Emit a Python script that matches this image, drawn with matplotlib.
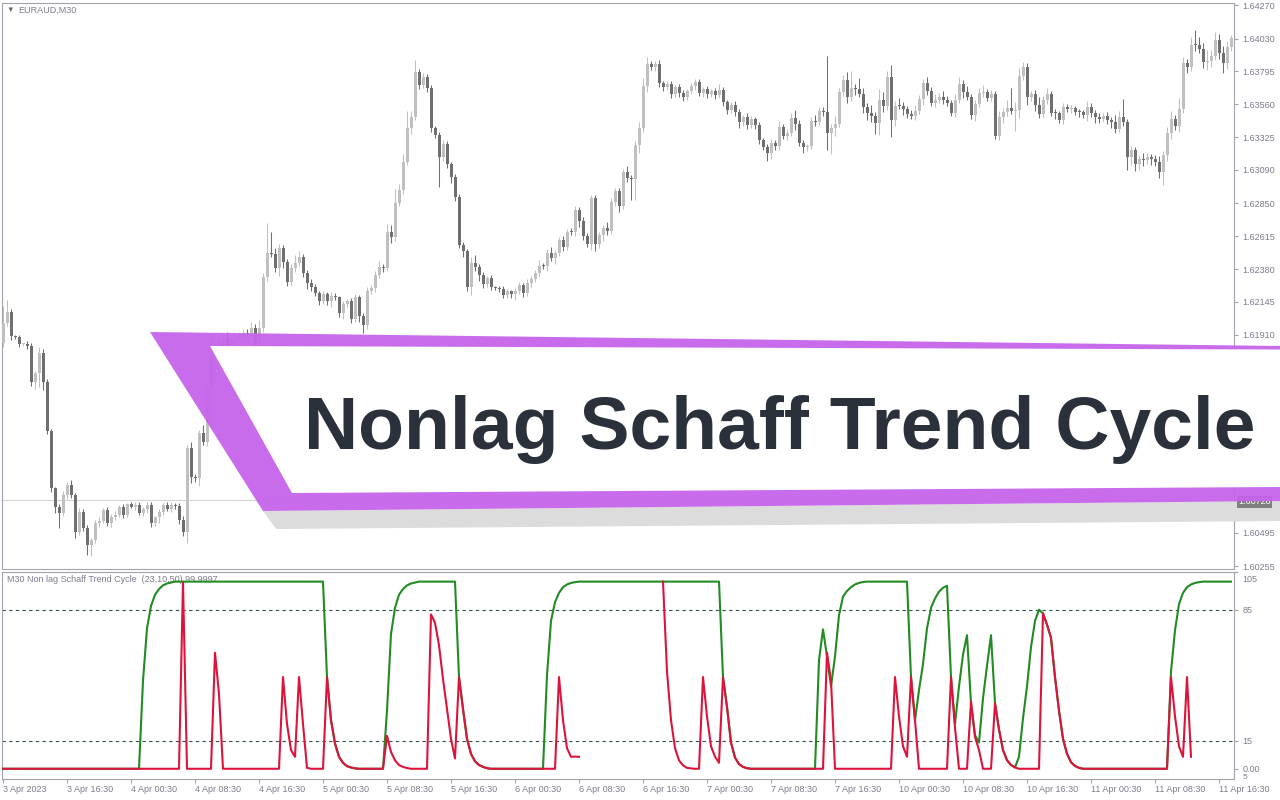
import numpy as np
import matplotlib.pyplot as plt
from matplotlib.patches import Polygon
from matplotlib.transforms import ScaledTranslation

plt.rcParams['font.family'] = ['Liberation Sans', 'DejaVu Sans']

# EURAUD M30 closes, in points above 1.60000
first_open = 1851
closes = [
    1994, 2073, 1901, 1894, 1844, 1844, 1830, 1572, 1636, 1780,
    1572, 1221, 813, 677, 634, 763, 835, 763, 498, 642,
    527, 405, 441, 563, 577, 656, 563, 606, 620, 677,
    620, 699, 677, 692, 634, 663, 692, 563, 606, 642,
    692, 663, 692, 685, 584, 498, 1100, 892, 885, 1207,
    1143, 1536, 1751, 1801, 1858, 1887, 1837, 1873, 1894, 1908,
    1923, 1916, 1959, 1851, 1959, 2324, 2495, 2488, 2388, 2531,
    2431, 2288, 2388, 2424, 2467, 2352, 2281, 2252, 2209, 2152,
    2202, 2152, 2188, 2180, 2066, 2130, 2152, 2023, 2180, 2044,
    1980, 2223, 2245, 2338, 2395, 2390, 2646, 2610, 2853, 2946,
    3147, 3390, 3469, 3791, 3698, 3755, 3676, 3390, 3340, 3182,
    3275, 3132, 3039, 2896, 2553, 2510, 2252, 2424, 2395, 2338,
    2273, 2316, 2252, 2245, 2238, 2195, 2223, 2202, 2223, 2266,
    2209, 2281, 2309, 2352, 2402, 2400, 2495, 2459, 2495, 2588,
    2538, 2646, 2644, 2803, 2724, 2617, 2560, 2889, 2560, 2624,
    2674, 2653, 2860, 2939, 2832, 3075, 3032, 3025, 3268, 3390,
    3690, 3848, 3826, 3848, 3712, 3683, 3705, 3633, 3683, 3640,
    3612, 3655, 3690, 3719, 3640, 3669, 3633, 3655, 3626, 3662,
    3576, 3519, 3555, 3504, 3433, 3469, 3411, 3454, 3411, 3304,
    3254, 3211, 3283, 3261, 3397, 3333, 3354, 3461, 3419, 3283,
    3254, 3261, 3440, 3433, 3512, 3504, 3354, 3390, 3419, 3648,
    3733, 3612, 3676, 3669, 3633, 3540, 3497, 3476, 3426, 3590,
    3547, 3755, 3447, 3547, 3545, 3526, 3490, 3476, 3512, 3597,
    3712, 3655, 3569, 3590, 3612, 3590, 3569, 3497, 3590, 3705,
    3648, 3612, 3483, 3562, 3640, 3648, 3605, 3633, 3333, 3469,
    3504, 3533, 3512, 3519, 3762, 3826, 3612, 3633, 3555, 3490,
    3590, 3633, 3497, 3495, 3447, 3540, 3526, 3533, 3504, 3502,
    3483, 3540, 3497, 3469, 3454, 3476, 3447, 3433, 3383, 3469,
    3433, 3182, 3232, 3132, 3168, 3161, 3182, 3168, 3147, 3075,
    3197, 3354, 3454, 3404, 3526, 3855, 3826, 3984, 3982, 3955,
    3862, 3869, 3905, 4020, 3927, 3855, 3970, 4034,
]
upper_wick = [
    120, 86, 20, 10, 15, 10, 20, 25, 15, 40, 30, 25, 15, 10, 20, 30, 25, 35, 15, 30,
    20, 25, 15, 20, 30, 15, 20, 25, 30, 15, 20, 10, 15, 20, 25, 15, 20, 25, 10, 20,
    15, 25, 20, 15, 20, 30, 20, 40, 20, 25, 60, 30, 160, 40, 30, 20, 40, 20, 30, 25,
    20, 30, 40, 25, 60, 30, 215, 150, 40, 30, 25, 20, 30, 60, 40, 20, 25, 30, 20, 15,
    20, 15, 25, 20, 10, 20, 15, 25, 20, 15, 20, 30, 20, 30, 40, 25, 60, 50, 100, 40,
    60, 120, 40, 86, 20, 30, 25, 20, 15, 25, 30, 20, 15, 20, 25, 20, 15, 40, 60, 25,
    20, 15, 20, 10, 15, 20, 15, 10, 20, 25, 15, 30, 20, 25, 40, 20, 30, 40, 20, 25,
    30, 20, 25, 30, 20, 30, 25, 20, 20, 25, 20, 40, 30, 20, 25, 20, 40, 20, 30, 40,
    60, 50, 25, 20, 30, 15, 25, 20, 15, 25, 20, 15, 20, 25, 20, 15, 20, 15, 20, 40,
    20, 15, 20, 25, 20, 15, 30, 20, 15, 20, 15, 20, 25, 20, 40, 20, 30, 40, 60, 30,
    20, 15, 30, 40, 25, 30, 400, 30, 60, 30, 40, 60, 120, 30, 80, 40, 30, 60, 30, 80,
    60, 40, 86, 40, 60, 30, 20, 30, 40, 30, 30, 40, 30, 40, 30, 40, 30, 20, 40, 50,
    30, 40, 20, 30, 40, 50, 20, 30, 20, 40, 30, 60, 143, 60, 60, 40, 30, 20, 30, 60,
    30, 40, 20, 30, 20, 30, 20, 20, 15, 20, 15, 40, 30, 20, 30, 20, 30, 20, 50, 40,
    129, 20, 30, 20, 30, 40, 30, 20, 30, 40, 30, 40, 60, 30, 80, 40, 30, 60, 107, 60,
    40, 80, 40, 60, 40, 50, 40, 20,
]
lower_wick = [
    30, 20, 30, 15, 20, 15, 20, 30, 50, 100, 60, 20, 30, 40, 107, 20, 30, 20, 40, 20,
    20, 72, 80, 20, 30, 15, 20, 30, 20, 15, 20, 15, 10, 20, 15, 20, 30, 30, 20, 40,
    20, 15, 20, 20, 30, 25, 79, 40, 30, 60, 20, 30, 20, 25, 20, 30, 20, 25, 20, 15,
    20, 25, 20, 30, 20, 30, 30, 20, 30, 60, 40, 30, 20, 30, 20, 30, 40, 30, 20, 30,
    20, 30, 40, 20, 30, 40, 20, 30, 20, 40, 60, 30, 20, 30, 20, 30, 20, 40, 30, 20,
    30, 20, 40, 20, 30, 20, 30, 25, 20, 215, 30, 25, 40, 30, 25, 40, 30, 60, 30, 40,
    30, 20, 20, 15, 20, 25, 20, 30, 40, 20, 30, 20, 30, 20, 25, 20, 30, 20, 40, 20,
    30, 20, 20, 30, 40, 30, 20, 40, 50, 30, 40, 30, 20, 30, 40, 20, 30, 150, 150, 60,
    30, 40, 20, 30, 30, 25, 20, 30, 20, 25, 30, 20, 25, 30, 20, 30, 25, 20, 25, 20,
    30, 25, 20, 30, 40, 30, 25, 20, 30, 30, 20, 60, 40, 30, 30, 20, 30, 20, 40, 20,
    40, 30, 20, 30, 20, 30, 120, 150, 60, 20, 30, 40, 30, 40, 20, 40, 50, 40, 80, 86,
    40, 30, 120, 40, 20, 40, 30, 20, 30, 20, 40, 30, 20, 30, 20, 30, 20, 20, 30, 20,
    40, 20, 30, 40, 20, 30, 20, 20, 20, 30, 40, 30, 20, 143, 60, 30, 60, 30, 40, 30,
    20, 30, 20, 40, 20, 30, 20, 30, 20, 30, 20, 40, 30, 40, 30, 20, 30, 40, 30, 20,
    30, 93, 60, 50, 40, 40, 30, 40, 30, 40, 93, 40, 40, 30, 40, 30, 40, 30, 40, 30,
    40, 60, 40, 30, 40, 72, 40, 30,
]
last_price = 1.60728
# price scale labels that are not hidden by the title banner
price_ticks = [1.60255, 1.60495, 1.61910, 1.62145, 1.62380, 1.62615, 1.62850,
               1.63090, 1.63325, 1.63560, 1.63795, 1.64030, 1.64270]

nan = np.nan
# Schaff trend cycle, main line (green) and second line (red)
stc_green = ([0] * 35
             + [47, 75, 87, 93, 96, 98, 99, 99.5]
             + [100] * 38
             + [49, 26, 13.5, 6.4, 3.2, 1.4, 0.7, 0.2]
             + [0] * 7
             + [31, 72, 86, 93, 96, 98, 99, 99.5]
             + [100] * 10
             + [49, 32, 16, 8, 4, 2, 1, 0.3]
             + [0] * 14
             + [50, 79, 89, 94, 97, 98.5, 99.3, 99.7]
             + [100] * 36
             + [49, 33, 14, 6, 2.5, 1, 0.3]
             + [0] * 17
             + [58, 74.5, 60, 44, 60, 82, 92, 95, 97, 98.5, 99.3, 99.8]
             + [100] * 11
             + [49, 26, 42, 56, 75, 86, 91, 94.6, 96.7, 97.8]
             + [49, 24, 44, 61, 71.4, 35, 18, 14, 37.6, 55, 71.4]
             + [35, 21, 10, 4.6, 2, 0.7, 6.4, 27, 44, 65, 79, 85]
             + [83, 77, 70, 49, 31, 16, 8, 3.5, 1.5, 0.5]
             + [0] * 22
             + [52, 74, 88, 94, 97, 98.5, 99.3, 99.7]
             + [100] * 8)
stc_red = ([0] * 45 + [99.5] + [0] * 7 + [62, 40] + [0] * 15
           + [49, 24, 10, 6.4, 49, 24, 0.5] + [0] * 4
           + [49, 26, 13.5, 6.4, 3.2, 1.4, 0.7, 0.2] + [0] * 7
           + [17.6, 9, 4.5, 2, 1, 0.4] + [0] * 5
           + [82.5, 78, 66, 48, 32, 16, 5.5, 49, 32, 16, 8, 4, 2, 1, 0.3]
           + [0] * 17
           + [49, 26, 11, 6.4, 6.5, 6.4] + [nan] * 20
           + [100, 52, 26, 11, 4.5, 1.8, 0.5, 0.2] + [0] * 2
           + [49, 28, 12, 6.5, 3.2, 49, 33, 14, 6, 2.5, 1, 0.3] + [0] * 19
           + [62, 47] + [0] * 15
           + [49, 28, 12, 6.4, 49, 26] + [0] * 8
           + [49, 22] + [0] * 3 + [36, 17, 10] + [0] * 3
           + [35, 21, 10, 4.6, 2, 0.7] + [0] * 6
           + [83, 77, 70, 49, 31, 16, 8, 3.5, 1.5, 0.5] + [0] * 22
           + [49, 28, 12, 6.4, 49, 6.4] + [nan] * 10)
stc_levels = [85, 15]
stc_ticks = [0, 15, 85, 105]
stc_tick_labels = ['0.00', '15', '85', '105']

time_labels = ['3 Apr 2023', '3 Apr 16:30', '4 Apr 00:30', '4 Apr 08:30', '4 Apr 16:30',
               '5 Apr 00:30', '5 Apr 08:30', '5 Apr 16:30', '6 Apr 00:30', '6 Apr 08:30',
               '6 Apr 16:30', '7 Apr 00:30', '7 Apr 08:30', '7 Apr 16:30', '10 Apr 00:30',
               '10 Apr 08:30', '10 Apr 16:30', '11 Apr 00:30', '11 Apr 08:30', '11 Apr 16:30']

W, H = 1280, 800
fig = plt.figure(figsize=(12.8, 8), dpi=100)


def fxy(x, y):
    # pixel position (from top left) to figure fraction
    return (x / W, 1 - y / H)


frame_col = '#a2a2ac'
text_col = '#7c7c8e'

ax = fig.add_axes([2 / W, 1 - 569 / H, 1232 / W, 566.3 / H])
ax2 = fig.add_axes([2 / W, 1 - 778.5 / H, 1232 / W, 206.8 / H])

# candles
c = 1.6 + np.array(closes) / 1e5
o = np.concatenate([[1.6 + first_open / 1e5], c[:-1]])
hi = np.maximum(o, c) + np.array(upper_wick) / 1e5
lo = np.minimum(o, c) - np.array(lower_wick) / 1e5
idx = np.arange(len(c))
colors = np.where(c >= o, '#c0c0c0', '#6f6f6f')

ax.axhline(last_price, color='#d2d2d2', lw=0.8, zorder=1)
ax.vlines(idx, lo, hi, colors=colors, linewidth=0.75, zorder=2)
body = np.maximum(np.abs(c - o), 0.00007)
ax.bar(idx, body, bottom=np.minimum(o, c), width=0.75, color=colors,
       linewidth=0, zorder=3)

ax.set_xlim(-0.25, len(c) - 0.25)
ax.set_ylim(1.60234, 1.64287)
ax.yaxis.tick_right()
ax.set_yticks(price_ticks)
ax.set_yticklabels([f'{p:.5f}' for p in price_ticks])
ax.set_xticks([])
ax.tick_params(axis='y', direction='out', length=3, width=0.8, color=frame_col,
               labelsize=6.5, labelcolor=text_col, pad=3)

# indicator panel
ax2.plot(idx, stc_green, color='#228b22', lw=1.5, zorder=3)
ax2.plot(idx, stc_red, color='#dc143c', lw=1.5, zorder=4)
for lvl in stc_levels:
    ax2.axhline(lvl, color='#2f4f4f', lw=0.8, ls=(0, (3, 3)), zorder=2)
ax2.set_xlim(-0.25, len(c) - 0.25)
ax2.set_ylim(-5.2, 105.3)
ax2.yaxis.tick_right()
ax2.set_yticks(stc_ticks)
ax2.set_yticklabels(stc_tick_labels)
ax2.set_xticks(np.arange(0, len(c), 16)[:len(time_labels)])
ax2.set_xticklabels(time_labels)
for lbl in ax2.get_xticklabels():
    lbl.set_ha('left')
ax2.tick_params(direction='out', length=3, width=0.8, color=frame_col,
                labelsize=6.5, labelcolor=text_col, pad=3)
ax2.tick_params(axis='x', pad=1.5)
# the top scale label sits just under the panel edge
top_lbl = ax2.get_yticklabels()[-1]
top_lbl.set_transform(top_lbl.get_transform()
                      + ScaledTranslation(0, -6 / 100, fig.dpi_scale_trans))
ax2.text(5 / 1232, 0.96, 'M30 Non lag Schaff Trend Cycle  (23,10,50) 99.9997',
         transform=ax2.transAxes, fontsize=6.5, color=text_col,
         ha='left', va='center', zorder=1)

for a in (ax, ax2):
    for s in a.spines.values():
        s.set_color(frame_col)
        s.set_linewidth(0.8)

fig.text(*fxy(6, 10), '▼', fontsize=5.5, color='#6a6a6a', ha='left', va='center')
fig.text(*fxy(18, 10), 'EURAUD,M30', fontsize=6.5, color=text_col, ha='left', va='center')
fig.text(*fxy(1243, 777.5), '5', fontsize=6, color=text_col, ha='left', va='center')

# last price tag on the price scale
fig.text(*fxy(1238, 502), f'{last_price:.5f}', fontsize=6.5, color='white',
         ha='left', va='center', zorder=6,
         bbox=dict(boxstyle='square,pad=0.15', fc='#7f7f7f', ec='none'))

# title banner
shadow = [(263, 511), (1280, 501), (1280, 521), (276, 529)]
purple = [(150, 332), (1280, 346), (1280, 501), (263, 511)]
inner = [(210, 346), (1280, 349.5), (1280, 487), (292, 493)]
fig.add_artist(Polygon([fxy(*p) for p in shadow], closed=True, fc='#dcdcdc',
                       ec='none', transform=fig.transFigure, zorder=5))
fig.add_artist(Polygon([fxy(*p) for p in purple], closed=True, fc='#c663eb',
                       ec='none', alpha=0.94, transform=fig.transFigure, zorder=7))
fig.add_artist(Polygon([fxy(*p) for p in inner], closed=True, fc='white',
                       ec='none', transform=fig.transFigure, zorder=8))
fig.text(*fxy(304, 449.3), 'Nonlag Schaff Trend Cycle', fontsize=54.1,
         fontweight='bold', color='#2b313b', ha='left', va='baseline', zorder=10)

fig.savefig('out.png', dpi=100)
